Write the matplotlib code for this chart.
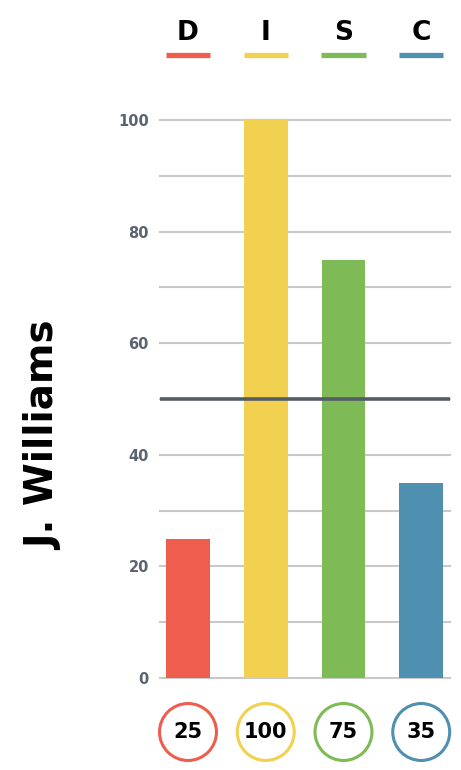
import matplotlib
matplotlib.use('Agg')
import matplotlib.pyplot as plt
from matplotlib.transforms import blended_transform_factory

# DISC profile data
labels = ['D', 'I', 'S', 'C']
scores = [25, 100, 75, 35]
colors = ['#EE5D4D', '#F1D14F', '#7EBA55', '#4F8FAF']
name = 'J. Williams'
yticks = [0, 20, 40, 60, 80, 100]
grid_levels = list(range(0, 101, 10))
midline = 50

fig = plt.figure(figsize=(4.61, 7.70), dpi=100)
ax = fig.add_axes([160 / 461, 1 - 678 / 770, 290 / 461, (678 - 120) / 770])

x = list(range(len(labels)))
ax.bar(x, scores, width=0.565, color=colors, zorder=2)

# light grid every 10, labels every 20
for g in grid_levels:
    ax.axhline(g, color='#c9c9c9', lw=1.5, zorder=1, clip_on=False)
ax.axhline(midline, color='#555c64', lw=2.6, zorder=3)

ax.set_xlim(-0.36, 3.37)
ax.set_ylim(0, 100)
ax.set_xticks([])
ax.set_yticks(yticks)
ax.set_yticklabels([str(t) for t in yticks], fontsize=10.5, fontweight='bold',
                   color='#5b6270')
ax.tick_params(axis='y', length=0, pad=8)
for s in ax.spines.values():
    s.set_visible(False)

trans = blended_transform_factory(ax.transData, fig.transFigure)

# header letters with colored underline
for xi, lab, c in zip(x, labels, colors):
    ax.text(xi, 1 - 33 / 770, lab, transform=trans, ha='center', va='center',
            fontsize=19, fontweight='bold', color='black', clip_on=False)
    ax.plot([xi - 0.285, xi + 0.285], [1 - 55 / 770] * 2, transform=trans,
            color=c, lw=3.8, solid_capstyle='butt', clip_on=False)

# score circles below
ax.scatter(x, [1 - 732 / 770] * len(x), s=41 ** 2, transform=trans,
           facecolor='white', edgecolor=colors, linewidths=2.2, clip_on=False,
           zorder=4)
for xi, v in zip(x, scores):
    ax.text(xi, 1 - 732 / 770, str(v), transform=trans, ha='center',
            va='center', fontsize=15, fontweight='bold', color='black',
            clip_on=False, zorder=5)

fig.text(44 / 461, 1 - 436 / 770, name, rotation=90, ha='center', va='center',
         fontsize=28, fontweight='bold', color='black')

fig.savefig('out.png', dpi=100, facecolor='white')
